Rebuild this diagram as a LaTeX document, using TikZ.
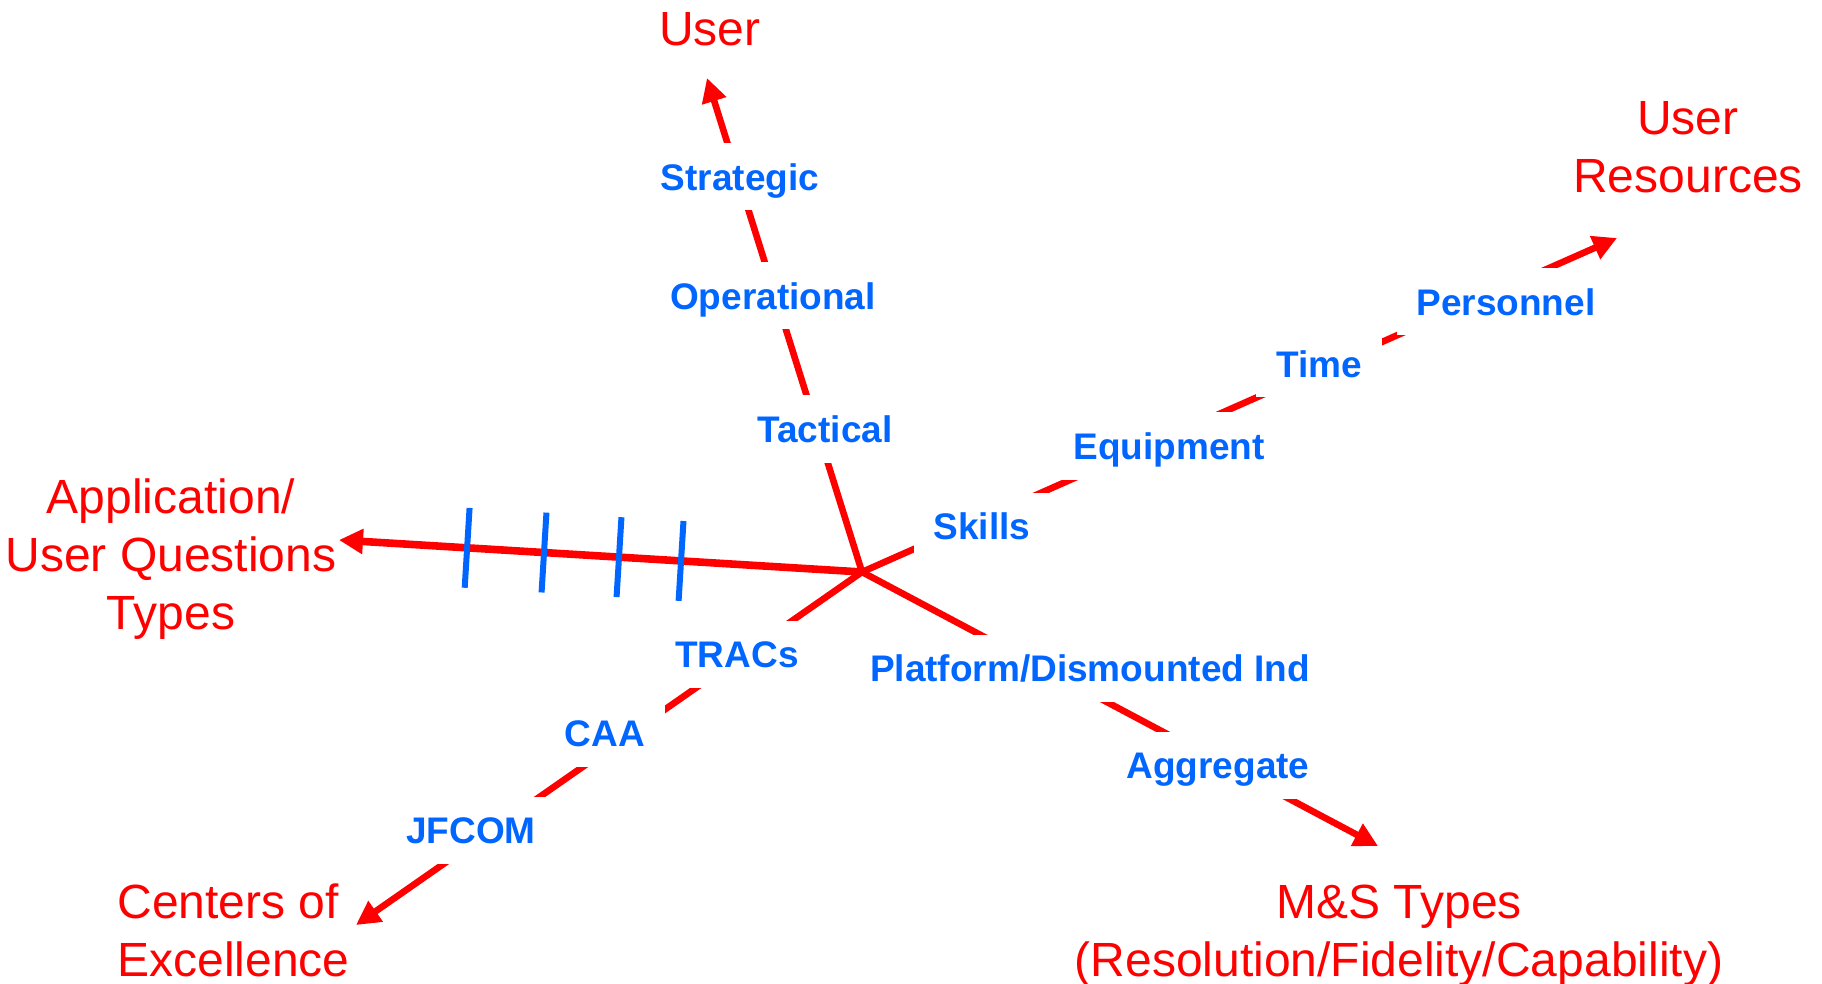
\documentclass[tikz,border=0pt]{standalone}
\usepackage{fontspec}
\setmainfont{Liberation Sans}
\usetikzlibrary{arrows.meta,calc}
\definecolor{axisred}{RGB}{255,0,0}
\definecolor{levelblue}{RGB}{0,102,255}
\begin{document}
\begin{tikzpicture}[x=0.5pt,y=-0.5pt,
  axis/.style={draw=axisred,line width=3.3pt,-{Triangle[length=12pt,width=12pt]}},
  mainaxis/.style={axis,line width=3.8pt},
  tickmark/.style={draw=levelblue,line width=3pt},
  level/.style={fill=white,text=levelblue,
    font=\fontsize{18.5}{22}\selectfont\bfseries,
    text height=17.9pt,text depth=4.6pt,inner xsep=10pt,inner ysep=5.5pt},
  title/.style={text=axisred,font=\fontsize{24}{29}\selectfont,inner sep=0pt}]
\useasboundingbox (0,0) rectangle (1822,984);

% hub and arrow ends
\coordinate (hub) at (862,572);
\coordinate (tipUser) at (707,78);
\coordinate (tipRes) at (1617,238);
\coordinate (tipApp) at (339,540);
\coordinate (tipCoe) at (356,925);
\coordinate (tipMS) at (1378,846);

% axes
\draw[mainaxis] (hub) -- (tipApp);
\draw[axis] (hub) -- (tipUser);
\draw[axis] (hub) -- (tipRes);
\draw[axis] (hub) -- (tipCoe);
\draw[axis] (hub) -- (tipMS);

% scale marks on the question-type axis
\foreach \f [count=\i] in {0.346,0.4646,0.608,0.755}{
  \coordinate (tk\i) at ($(hub)!\f!(tipApp)$);
  \draw[tickmark] ($(tk\i)!20pt!90:(tipApp)$) -- ($(tk\i)!20pt!-90:(tipApp)$);
}

% axis titles
\node[title,align=center] (tUser) at (710,34) {\strut User\strut};
\node[title,align=center] (tRes) at (1688,152) {\strut User\\Resources\strut};
\node[title,align=center] (tApp) at (171,560) {\strut Application/\\User Questions\\Types\strut};
\node[title,align=left,anchor=west] (tCoe) at (117,936) {\strut Centers of\\Excellence\strut};
\node[title,align=center] (tMS) at (1399,936) {\strut M\&S Types\\(Resolution/Fidelity/Capability)\strut};

% levels along the axes
\node[level] (lStrategic) at (740,177) {Strategic};
\node[level] (lOperational) at (773,296) {Operational};
\node[level] (lTactical) at (825,429) {Tactical};
\node[level] (lSkills) at (982,526) {Skills};
\node[level] (lEquipment) at (1169,446) {Equipment};
\node[level] (lTime) at (1319,364) {Time};
\node[level] (lPersonnel) at (1506,302) {Personnel};
\node[level] (lTRACs) at (737,654) {TRACs};
\node[level] (lCAA) at (605,733) {CAA};
\node[level] (lJFCOM) at (471,830) {JFCOM};
\node[level] (lPlatform) at (1090,668) {Platform/Dismounted Ind};
\node[level] (lAggregate) at (1218,765) {Aggregate};
\end{tikzpicture}
\end{document}
